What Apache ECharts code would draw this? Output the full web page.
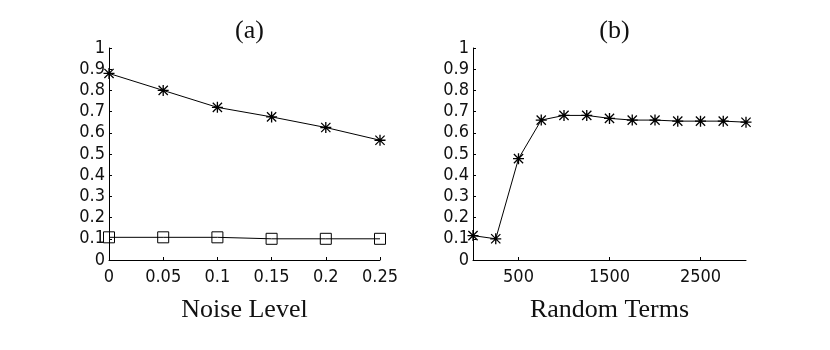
<!DOCTYPE html>
<html><head><meta charset="utf-8">
<script src="https://cdn.jsdelivr.net/npm/echarts@6/dist/echarts.min.js"></script>
<style>html,body{margin:0;padding:0;background:#fff}#c{width:830px;height:350px}</style>
</head><body><div id="c"></div>
<script>
// Panel (a)
const noiseLevels = [0, 0.05, 0.1, 0.15, 0.2, 0.25];
const starA = [0.88, 0.80, 0.72, 0.675, 0.625, 0.565];
const squareA = [0.107, 0.107, 0.107, 0.10, 0.10, 0.10];
// Panel (b)
const randomTerms = [0, 250, 500, 750, 1000, 1250, 1500, 1750, 2000, 2250, 2500, 2750, 3000];
const starB = [0.115, 0.10, 0.478, 0.66, 0.682, 0.682, 0.668, 0.66, 0.66, 0.655, 0.655, 0.655, 0.65];
const xTicksB = [500, 1500, 2500];
const titles = ['(a)', '(b)'];
const xNames = ['Noise Level', 'Random Terms'];

const star = 'path://M4.4 0h1.2v10h-1.2zM0 4.4h10v1.2h-10zM1.2 0.4L9.6 8.8L8.8 9.6L0.4 1.2zM8.8 0.4L9.6 1.2L1.2 9.6L0.4 8.8z';
const tickFont = {fontFamily: '"DejaVu Sans Condensed","Liberation Sans Narrow","Arial Narrow",sans-serif', fontSize: 18, color: '#111'};
const serif = '"Liberation Serif","Times New Roman",serif';

const grids = [
  {left: 109, top: 48, width: 271, height: 212},
  {left: 473, top: 48, width: 273, height: 212}
];
function yAxis(i) {
  return {
    gridIndex: i, type: 'value', min: 0, max: 1, interval: 0.1,
    axisLine: {show: true, lineStyle: {color: '#000', width: 1}},
    axisTick: {show: true, inside: true, length: 3, lineStyle: {color: '#000'}},
    splitLine: {show: false},
    axisLabel: Object.assign({margin: 4}, tickFont)
  };
}
const option = {
  backgroundColor: '#fff',
  animation: false,
  title: titles.map((t, i) => ({
    text: t, left: grids[i].left + grids[i].width / 2, top: 13, textAlign: 'center',
    textStyle: {fontFamily: serif, fontSize: 26, fontWeight: 'normal', color: '#111'}
  })),
  grid: grids,
  xAxis: [
    {
      gridIndex: 0, type: 'value', min: 0, max: 0.25, interval: 0.05,
      name: xNames[0], nameLocation: 'middle', nameGap: 37,
      nameTextStyle: {fontFamily: serif, fontSize: 26, color: '#111'},
      axisLine: {show: true, lineStyle: {color: '#000', width: 1}},
      axisTick: {show: true, inside: true, length: 3, lineStyle: {color: '#000'}},
      splitLine: {show: false},
      axisLabel: Object.assign({margin: 8}, tickFont)
    },
    {
      gridIndex: 1, type: 'value', min: 0, max: 3000, interval: 500,
      name: xNames[1], nameLocation: 'middle', nameGap: 37,
      nameTextStyle: {fontFamily: serif, fontSize: 26, color: '#111'},
      axisLine: {show: true, lineStyle: {color: '#000', width: 1}},
      axisTick: {show: true, inside: true, length: 3, customValues: xTicksB, lineStyle: {color: '#000'}},
      splitLine: {show: false},
      axisLabel: Object.assign({margin: 8, customValues: xTicksB, formatter: v => String(v)}, tickFont)
    }
  ],
  yAxis: [yAxis(0), yAxis(1)],
  series: [
    {
      type: 'line', xAxisIndex: 0, yAxisIndex: 0,
      data: noiseLevels.map((x, i) => [x, starA[i]]),
      symbol: star, symbolSize: 11, showAllSymbol: true,
      lineStyle: {color: '#000', width: 1}, itemStyle: {color: '#000'}
    },
    {
      type: 'line', xAxisIndex: 0, yAxisIndex: 0,
      data: noiseLevels.map((x, i) => [x, squareA[i]]),
      symbol: 'rect', symbolSize: 11, showAllSymbol: true,
      lineStyle: {color: '#000', width: 1},
      itemStyle: {color: 'transparent', borderColor: '#000', borderWidth: 1}
    },
    {
      type: 'line', xAxisIndex: 1, yAxisIndex: 1,
      data: randomTerms.map((x, i) => [x, starB[i]]),
      symbol: star, symbolSize: 11, showAllSymbol: true,
      lineStyle: {color: '#000', width: 1}, itemStyle: {color: '#000'}
    }
  ]
};
const chart = echarts.init(document.getElementById('c'), null, {renderer: 'canvas'});
chart.setOption(option);
</script>
</body></html>
